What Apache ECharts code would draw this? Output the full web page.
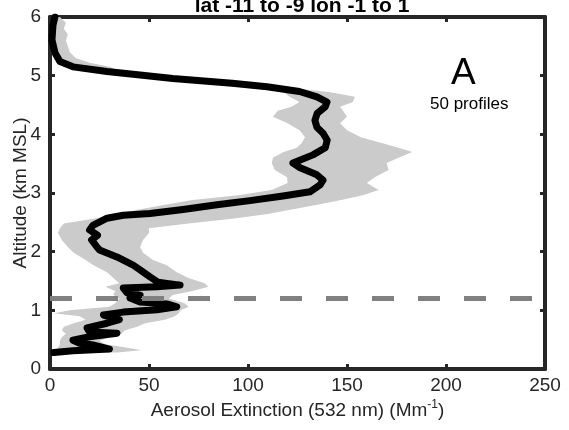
<!DOCTYPE html>
<html>
<head>
<meta charset="utf-8">
<script src="https://cdn.jsdelivr.net/npm/echarts@6/dist/echarts.min.js"></script>
<style>
  html, body { margin: 0; padding: 0; background: #fff; }
  #chart { width: 569px; height: 430px; }
</style>
</head>
<body>
<div id="chart"></div>
<script>
// mean profile (extinction Mm-1 vs altitude km)
const lineAlt = [6.0, 5.86, 5.61, 5.39, 5.24, 5.15, 5.07, 5.01, 4.95, 4.87, 4.81, 4.73, 4.64, 4.55, 4.47, 4.36, 4.24, 4.12, 4.02, 3.90, 3.77, 3.65, 3.51, 3.43, 3.31, 3.22, 3.14, 3.02, 2.95, 2.87, 2.80, 2.72, 2.65, 2.62, 2.57, 2.45, 2.37, 2.28, 2.20, 2.08, 2.03, 1.91, 1.77, 1.69, 1.57, 1.48, 1.43, 1.40, 1.38, 1.30, 1.26, 1.21, 1.14, 1.11, 1.06, 1.01, 0.97, 0.92, 0.84, 0.78, 0.70, 0.63, 0.61, 0.55, 0.49, 0.44, 0.41, 0.34, 0.31, 0.28]
const lineExt = [2.5, 1.5, 1, 2.5, 5, 11.6, 28.8, 45.5, 62, 92, 109.6, 126, 134.8, 139.9, 139, 135, 133.8, 134.8, 137.9, 140, 139, 132.8, 122.7, 126.3, 134.8, 137.9, 136.4, 131.3, 117.7, 101, 84.3, 67.2, 50.5, 37, 28.8, 21.7, 20, 24, 21, 23.7, 25, 33.8, 42, 45.5, 50.5, 54.5, 65.7, 54, 37, 38.9, 45.5, 40.4, 45.5, 59, 64, 54, 37, 27, 35, 28.8, 18.7, 20, 33.8, 20, 11.6, 15, 21.7, 30, 11.6, 2]

// spread of the 50 profiles
const bandAlt = [6.0, 5.9, 5.8, 5.7, 5.6, 5.5, 5.4, 5.3, 5.22, 5.15, 5.08, 5.0, 4.93, 4.86, 4.79, 4.72, 4.64, 4.55, 4.47, 4.4, 4.3, 4.19, 4.07, 3.95, 3.85, 3.77, 3.7, 3.6, 3.51, 3.39, 3.27, 3.17, 3.05, 2.96, 2.88, 2.8, 2.72, 2.64, 2.56, 2.48, 2.4, 2.32, 2.2, 2.08, 1.98, 1.86, 1.77, 1.65, 1.55, 1.46, 1.40, 1.33, 1.26, 1.20, 1.12, 1.06, 1.0, 0.95, 0.9, 0.84, 0.78, 0.72, 0.66, 0.6, 0.54, 0.48, 0.42, 0.36, 0.32, 0.28]
const bandLo = [1, 1, 1.5, 1, 1, 1.5, 2, 2.5, 4, 9, 20, 42, 70, 90, 108, 118, 121, 126, 122, 115, 112.6, 120, 126, 128.8, 127, 124.7, 118, 112.6, 112, 113.5, 119.7, 120, 112, 95, 72, 58, 45, 34, 22, 7, 5, 4, 6, 9, 12, 18, 22, 28.8, 32, 35, 28, 33, 32, 35, 33, 30, 10, 2, 15, 18, 12, 7, 6, 8, 6, 5, 5, 4, 3, 2]
const bandHi = [5, 8, 7, 9, 8, 9, 10, 13, 20, 30, 35, 55, 82, 100, 122, 141, 154, 153, 146.5, 148, 150, 146.5, 150, 157, 168, 176, 183, 176, 170, 171, 164, 160, 166, 158, 147, 135, 122, 110, 92, 70, 50, 50, 47, 45.5, 47, 52, 59, 64, 70, 78, 80, 72, 62, 60, 68, 70, 66, 65, 63, 58, 48, 44, 38, 36, 30, 25, 28, 40, 46, 34]

const boundaryAlt = 1.2
const xTicks = [0, 250, 50]
const yTicks = [0, 6, 1]

const frame = '#262626'
const font = 'Liberation Sans, Arial, sans-serif'

const chart = echarts.init(document.getElementById('chart'))

const tickStyle = { show: true, inside: true, length: 5, lineStyle: { color: frame, width: 3 } }
const lineStyleAxis = { show: true, onZero: false, lineStyle: { color: frame, width: 4 } }

const option = {
  backgroundColor: '#fff',
  animation: false,
  title: {
    text: 'lat -11 to -9 lon -1 to 1',
    left: 297,
    textAlign: 'center',
    top: -9,
    textStyle: { fontFamily: font, fontSize: 21, fontWeight: 'bold', color: '#000' }
  },
  grid: { left: 50, right: 24, top: 17, bottom: 61, outerBoundsMode: 'none', containLabel: false },
  xAxis: [{
    type: 'value', min: xTicks[0], max: xTicks[1], interval: xTicks[2],
    name: 'Aerosol Extinction (532 nm) (Mm{sup|-1})',
    nameLocation: 'middle', nameGap: 30, nameMoveOverlap: false,
    nameTextStyle: {
      fontFamily: font, fontSize: 19, color: frame, lineHeight: 24,
      rich: { sup: { fontFamily: font, fontSize: 12, color: frame, verticalAlign: 'top', lineHeight: 24 } }
    },
    axisLine: lineStyleAxis, axisTick: tickStyle,
    axisLabel: { fontFamily: font, fontSize: 19, color: frame, margin: 7 },
    splitLine: { show: false }
  }, {
    type: 'value', position: 'top', min: xTicks[0], max: xTicks[1], interval: xTicks[2],
    axisLine: lineStyleAxis, axisTick: tickStyle,
    axisLabel: { show: false }, splitLine: { show: false }
  }],
  yAxis: [{
    type: 'value', min: yTicks[0], max: yTicks[1], interval: yTicks[2],
    name: 'Altitude (km MSL)',
    nameLocation: 'middle', nameGap: 20, nameMoveOverlap: false,
    nameTextStyle: { fontFamily: font, fontSize: 19, color: frame },
    axisLine: lineStyleAxis, axisTick: tickStyle,
    axisLabel: { fontFamily: font, fontSize: 19, color: frame, margin: 9 },
    splitLine: { show: false }
  }, {
    type: 'value', position: 'right', min: yTicks[0], max: yTicks[1], interval: yTicks[2],
    axisLine: lineStyleAxis, axisTick: tickStyle,
    axisLabel: { show: false }, splitLine: { show: false }
  }],
  series: [
    // gray spread band
    {
      type: 'custom',
      silent: true,
      clip: true,
      z: 1,
      data: [[0, 0]],
      renderItem: function (params, api) {
        const pts = []
        for (let i = 0; i < bandAlt.length; i++) pts.push(api.coord([bandHi[i], bandAlt[i]]))
        for (let i = bandAlt.length - 1; i >= 0; i--) pts.push(api.coord([bandLo[i], bandAlt[i]]))
        return { type: 'polygon', shape: { points: pts }, style: { fill: '#cbcbcb' } }
      },
      markLine: {
        silent: true,
        symbol: 'none',
        label: { show: false },
        lineStyle: { color: '#808080', width: 5, type: [22, 24] },
        data: [{ yAxis: boundaryAlt }]
      }
    },
    // mean profile
    {
      type: 'line',
      z: 3,
      showSymbol: false,
      silent: true,
      data: lineExt.map((v, i) => [v, lineAlt[i]]),
      lineStyle: { color: '#000', width: 7, cap: 'round', join: 'round' }
    }
  ],
  graphic: [
    { type: 'text', left: 451, top: 55, style: { text: 'A', fontFamily: font, fontSize: 37, fill: '#000' } },
    { type: 'text', left: 430, top: 96, style: { text: '50 profiles', fontFamily: font, fontSize: 17, fill: '#000' } }
  ]
}

chart.setOption(option)
</script>
</body>
</html>
